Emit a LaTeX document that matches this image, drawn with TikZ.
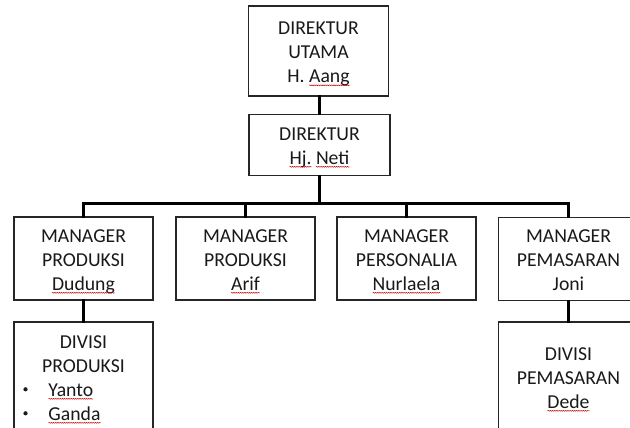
\documentclass[tikz,border=0pt]{standalone}
\usepackage{fontspec}
\setmainfont{Carlito}
\usetikzlibrary{decorations.pathmorphing}
\newdimen\sqw
\newcommand\sq[1]{\settowidth\sqw{#1}\rlap{#1}\tikz[baseline=0pt]{\useasboundingbox (0pt,0pt) rectangle (\sqw,0pt);\draw[red!80!black,line width=0.5bp,decorate,decoration={snake,amplitude=0.45bp,segment length=2.2bp}] (0pt,-2.8bp) -- (\sqw,-2.8bp);}}
\newcommand\blt{\makebox[10bp][c]{\tikz[baseline=0pt]\fill[black!90] (0pt,6.7bp) circle (2.1bp);}}
\newcommand\bitem[1]{\makebox[139bp][l]{\hspace*{6.5bp}\blt\hspace*{18bp}\sq{#1}}}
\tikzset{
  box/.style={draw=black!85, line width=1.3bp, fill=white, inner sep=0pt,
    align=center, text=black!90, font=\fontsize{19.7bp}{24bp}\selectfont,
    text depth=5bp},
  two/.style={text height=43bp},
  three/.style={text height=68bp},
  four/.style={text height=92bp},
  conn/.style={draw=black, line width=3bp, line join=miter, line cap=rect}
}
\begin{document}
\begin{tikzpicture}[x=1bp,y=-1bp]
\useasboundingbox (0,0) rectangle (630,427);
\clip (0,0) rectangle (630,427);
\fill[white] (0,0) rectangle (630,427);
\coordinate (bar) at (0,203.5);
\node[box, three, minimum width=140bp, minimum height=90bp] (top) at (318.5,51) {DIREKTUR\\UTAMA\\H. \sq{Aang}};
\node[box, two, minimum width=141bp, minimum height=61bp] (dir) at (319.5,145) {DIREKTUR\\\sq{Hj.} \sq{Neti}};
\node[box, three, minimum width=139bp, minimum height=83bp] (m1) at (83.5,258.5) {MANAGER\\PRODUKSI\\\sq{Dudung}};
\node[box, three, minimum width=139bp, minimum height=83bp] (m2) at (245.5,258.5) {MANAGER\\PRODUKSI\\\sq{Arif}};
\node[box, three, minimum width=139bp, minimum height=83bp] (m3) at (406.5,258.5) {MANAGER\\PERSONALIA\\\sq{Nurlaela}};
\node[box, three, minimum width=140bp, minimum height=83bp] (m4) at (568.5,259) {MANAGER\\PEMASARAN\\Joni};
\node[box, four, minimum width=139bp, minimum height=109bp] (d1) at (83.5,376.5) {DIVISI\\PRODUKSI\\\bitem{Yanto}\\\bitem{Ganda}};
\node[box, three, minimum width=140bp, minimum height=109bp] (d4) at (568.5,376.5) {DIVISI\\PEMASARAN\\\sq{Dede}};
\draw[conn] (dir.north) -- (dir.north |- top.south);
\draw[conn] (dir.south) -- (dir.south |- bar);
\draw[conn] (m1.north) -- (m1.north |- bar) -- (m4.north |- bar) -- (m4.north);
\draw[conn] (m2.north) -- (m2.north |- bar);
\draw[conn] (m3.north) -- (m3.north |- bar);
\draw[conn] (m1.south) -- (d1.north);
\draw[conn] (m4.south) -- (d4.north);
\end{tikzpicture}
\end{document}
